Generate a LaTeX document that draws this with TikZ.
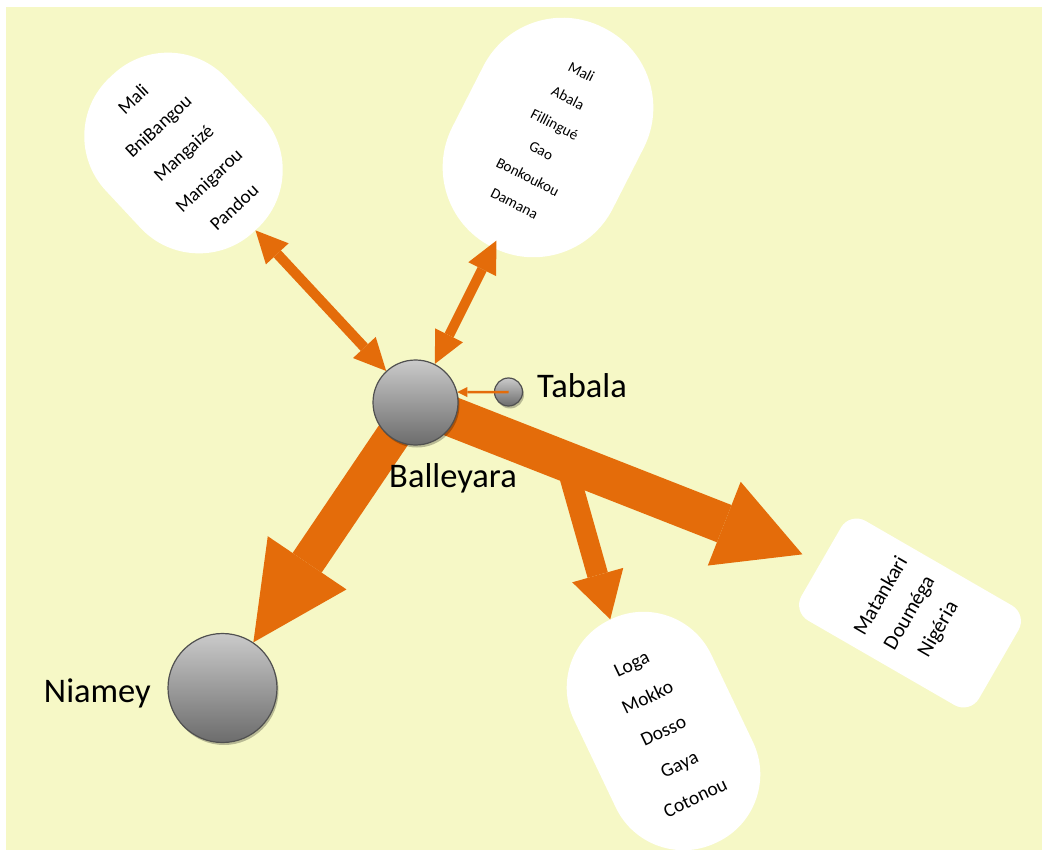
\documentclass[tikz,border=0pt]{standalone}
\usepackage{fontspec}
\setmainfont{Carlito}
\usetikzlibrary{arrows.meta,calc,shadows}

\definecolor{paper}{RGB}{246,248,198}
\definecolor{flow}{RGB}{228,108,10}
\definecolor{ballhi}{RGB}{202,202,202}
\definecolor{balllo}{RGB}{108,108,108}
\definecolor{rim}{RGB}{80,80,80}

\pgfdeclarelayer{back}
\pgfdeclarelayer{bubbles}
\pgfdeclarelayer{flows}
\pgfsetlayers{back,bubbles,flows,main}

\begin{document}
\begin{tikzpicture}[x=1pt,y=-1pt,
  bubble/.style={fill=white, inner sep=0pt, align=center, text=black},
  town/.style={circle, draw=rim, line width=1.2pt, top color=ballhi,
    bottom color=balllo, inner sep=0pt,
    drop shadow={shadow xshift=1.5pt, shadow yshift=-2.5pt, opacity=0.25, fill=black}},
  place/.style={font=\fontsize{34.5}{40}\selectfont, inner sep=0pt, text=black},
  link/.style={draw=flow, line width=10pt,
    {Triangle[length=32pt,width=31pt,line width=0pt]}-{Triangle[length=32pt,width=31pt,line width=0pt]}},
  feed/.style={draw=flow, line width=2.5pt,
    -{Triangle[length=10pt,width=10pt,line width=0pt]}}
]
\useasboundingbox (0,0) rectangle (1042,850);

% sheet and its pale yellow field
\begin{pgfonlayer}{back}
  \fill[white] (0,0) rectangle (1042,850);
  \fill[paper] (6,7) rectangle (1042,850);
\end{pgfonlayer}

% lists of destinations
\begin{pgfonlayer}{bubbles}
  \node[bubble, rotate=43, minimum width=165pt, minimum height=211pt,
    rounded corners=80pt, font=\fontsize{19}{37}\selectfont]
    (bubW) at (183.5,153) {Mali\\BniBangou\\Mangaizé\\Manigarou\\Pandou};
  \node[bubble, rotate=-27, minimum width=180pt, minimum height=246pt,
    rounded corners=89pt, font=\fontsize{15}{29.5}\selectfont]
    (bubN) at (548,137.5) {Mali\\Abala\\Fillingué\\Gao\\Bonkoukou\\Damana};
  \node[bubble, rotate=25.5, minimum width=152pt, minimum height=247pt,
    rounded corners=75pt, font=\fontsize{19.5}{37}\selectfont]
    (bubS) at (663.5,731) {Loga\\Mokko\\Dosso\\Gaya\\Cotonou};
  \node[bubble, rotate=60, minimum width=115pt, minimum height=205pt,
    rounded corners=18pt, font=\fontsize{21}{33}\selectfont]
    (bubE) at (910,613) {Matankari\\Douméga\\Nigéria};
\end{pgfonlayer}

% towns
\node[town, minimum size=85pt] (bal) at (415.5,402.5) {};
\node[town, minimum size=28pt] (tab) at (508.5,392) {};
\node[town, minimum size=109pt] (nia) at (222.5,688) {};

\node[place, anchor=base] (balL) at (453,487) {Balleyara};
\node[place, anchor=base west] (tabL) at (537,398) {Tabala};
\node[place, anchor=base east] (niaL) at (151,702) {Niamey};

% flows
\begin{pgfonlayer}{flows}
  \draw[link] (bal) -- (bubW);
  \draw[link, shorten >=-8pt] (bal) -- (bubN);
  \draw[draw=flow, line width=35pt,
    -{Triangle[length=96pt,width=95pt,line width=0pt]}] (bal.center) -- (nia);
  \coordinate (fork) at ($(bal.center)!0.37!(bubE.north)$);
  \draw[draw=flow, line width=21pt,
    -{Triangle[length=46pt,width=53pt,line width=0pt]}] (fork) -- (bubS.north);
  \draw[draw=flow, line width=40pt, shorten >=20pt,
    -{Triangle[length=84pt,width=90pt,line width=0pt]}] (bal.center) -- (bubE.north);
\end{pgfonlayer}

\draw[feed] (tab.center) -- (bal.14);
\end{tikzpicture}
\end{document}
